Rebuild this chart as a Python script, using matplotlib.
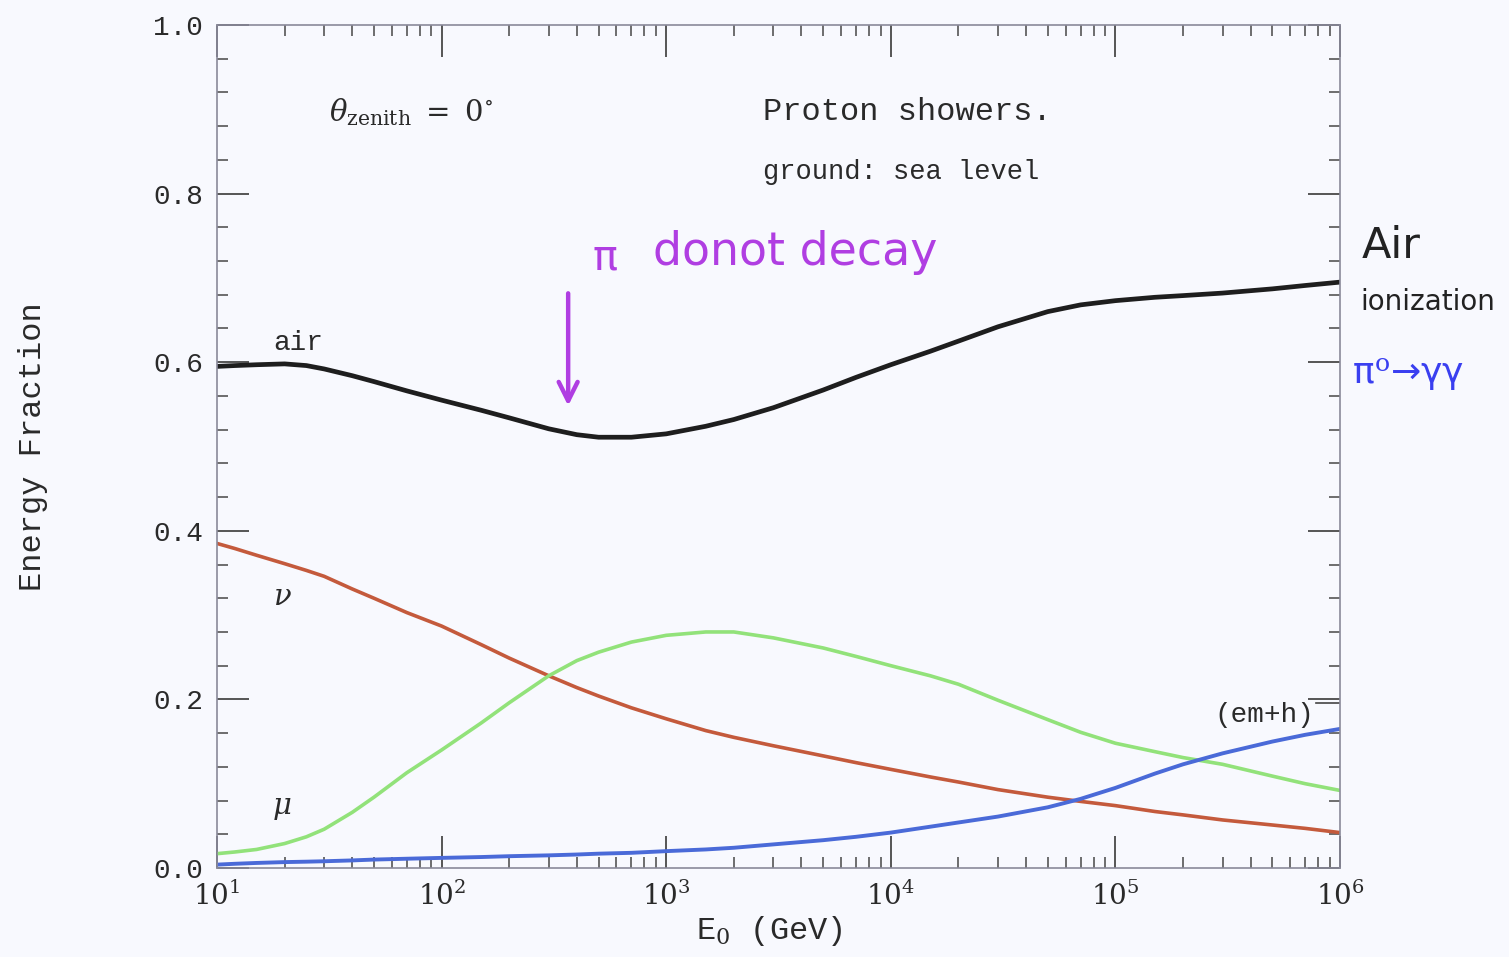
import matplotlib
matplotlib.use("Agg")
import matplotlib.pyplot as plt
from matplotlib.ticker import FixedLocator, NullFormatter, LogLocator

# Primary energy (GeV) and energy fractions carried by each component
energy = [10, 12, 15, 20, 25, 30, 40, 50, 70, 100, 150, 200, 300, 400, 500,
          700, 1e3, 1.5e3, 2e3, 3e3, 5e3, 7e3, 1e4, 1.5e4, 2e4, 3e4, 5e4,
          7e4, 1e5, 1.5e5, 2e5, 3e5, 5e5, 7e5, 1e6]

frac_air = [0.595, 0.596, 0.597, 0.598, 0.596, 0.592, 0.584, 0.577, 0.566,
            0.555, 0.543, 0.534, 0.521, 0.514, 0.511, 0.511, 0.515, 0.524,
            0.532, 0.546, 0.567, 0.582, 0.597, 0.613, 0.625, 0.642, 0.660,
            0.668, 0.673, 0.677, 0.679, 0.682, 0.687, 0.691, 0.695]

frac_nu = [0.385, 0.379, 0.371, 0.361, 0.353, 0.346, 0.331, 0.320, 0.303,
           0.287, 0.265, 0.249, 0.228, 0.214, 0.204, 0.190, 0.177, 0.163,
           0.155, 0.145, 0.133, 0.125, 0.117, 0.108, 0.102, 0.093, 0.084,
           0.079, 0.074, 0.067, 0.063, 0.057, 0.051, 0.047, 0.042]

frac_mu = [0.017, 0.019, 0.022, 0.029, 0.037, 0.046, 0.066, 0.084, 0.113,
           0.140, 0.172, 0.196, 0.228, 0.246, 0.256, 0.268, 0.276, 0.280,
           0.280, 0.273, 0.261, 0.251, 0.240, 0.228, 0.218, 0.199, 0.176,
           0.161, 0.148, 0.138, 0.131, 0.123, 0.109, 0.100, 0.092]

frac_emh = [0.004, 0.005, 0.006, 0.007, 0.0075, 0.008, 0.009, 0.010, 0.011,
            0.012, 0.013, 0.014, 0.015, 0.016, 0.017, 0.018, 0.020, 0.022,
            0.024, 0.028, 0.033, 0.037, 0.042, 0.049, 0.054, 0.061, 0.072,
            0.082, 0.095, 0.112, 0.123, 0.136, 0.150, 0.158, 0.165]

y_ticks = [0.0, 0.2, 0.4, 0.6, 0.8, 1.0]
x_ticks = [1e1, 1e2, 1e3, 1e4, 1e5, 1e6]
x_tick_labels = [r"$10^{1}$", r"$10^{2}$", r"$10^{3}$", r"$10^{4}$",
                 r"$10^{5}$", r"$10^{6}$"]

BG = "#f8f9fe"
TXT = "#2a2a2a"
MONO = "Liberation Mono"
plt.rcParams["font.family"] = [MONO, "DejaVu Serif"]
plt.rcParams["mathtext.fontset"] = "dejavuserif"

fig = plt.figure(figsize=(15.09, 9.57), dpi=100, facecolor=BG)
ax = fig.add_axes([217 / 1509, 1 - 868 / 957, 1123 / 1509, 843 / 957])
ax.set_facecolor(BG)

ax.plot(energy, frac_air, color="#1e1e1e", lw=3.4)
ax.plot(energy, frac_nu, color="#c45a3c", lw=2.6)
ax.plot(energy, frac_mu, color="#92e27a", lw=2.6)
ax.plot(energy, frac_emh, color="#4a6ad8", lw=2.8)

ax.set_xscale("log")
ax.set_xlim(1e1, 1e6)
ax.set_ylim(0.0, 1.0)

ax.xaxis.set_major_locator(FixedLocator(x_ticks))
ax.set_xticklabels(x_tick_labels)
ax.xaxis.set_minor_locator(LogLocator(base=10, subs=range(2, 10)))
ax.xaxis.set_minor_formatter(NullFormatter())
ax.yaxis.set_major_locator(FixedLocator(y_ticks))
ax.set_yticklabels([f"{v:.1f}" for v in y_ticks])
ax.yaxis.set_minor_locator(FixedLocator([i * 0.04 for i in range(26)]))

ax.tick_params(which="both", direction="in", top=True, right=True,
               colors="#555555", labelcolor=TXT)
ax.tick_params(which="major", length=23, width=1.4)
ax.tick_params(which="minor", length=8, width=1.2)
ax.tick_params(axis="x", which="major", pad=10, labelsize=20)
ax.tick_params(axis="y", which="major", pad=10, labelsize=20)
for sp in ax.spines.values():
    sp.set_color("#8a8a9a")
    sp.set_linewidth(1.2)

ax.set_xlabel(r"E$_0$ (GeV)", fontsize=23, color=TXT, labelpad=2)
ax.xaxis.label.set_x(0.492)
ax.set_ylabel("Energy Fraction", fontsize=23, color=TXT, labelpad=76)

# Curve labels
ax.text(23, 0.623, "air", fontsize=20, color=TXT, ha="center", va="center")
ax.text(19.5, 0.321, r"$\nu$", fontsize=21, color=TXT, ha="center", va="center")
ax.text(19.5, 0.071, r"$\mu$", fontsize=21, color=TXT, ha="center", va="center")
ax.text(0.977, 0.181, "(em+h)", transform=ax.transAxes, fontsize=20,
        color=TXT, ha="right", va="center")
ax.plot([0.979, 1.0], [0.196, 0.196], transform=ax.transAxes,
        color="#444444", lw=1.2)

ax.text(0.1, 0.897, r"$\theta_{\rm zenith}\ =\ 0^{\circ}$", transform=ax.transAxes,
        fontsize=21, color=TXT, ha="left", va="center")
ax.text(0.486, 0.897, "Proton showers.", transform=ax.transAxes, fontsize=23,
        color=TXT, ha="left", va="center")
ax.text(0.486, 0.826, "ground: sea level", transform=ax.transAxes, fontsize=19.5,
        color=TXT, ha="left", va="center")

# Hand-written notes
purple = "#b03ee2"
ax.annotate("", xy=(366, 0.545), xytext=(366, 0.685),
            arrowprops=dict(arrowstyle="->", color=purple, lw=3.2,
                            mutation_scale=34))
ax.text(0.334, 0.724, "π", transform=ax.transAxes, fontsize=30, color=purple,
        family="DejaVu Sans", ha="left", va="center")
ax.text(0.388, 0.73, "donot decay", transform=ax.transAxes, fontsize=33,
        color=purple, family="DejaVu Sans", ha="left", va="center")

fig.text(1362 / 1509, 1 - 246 / 957, "Air", fontsize=31, color="#222222",
         family="DejaVu Sans", ha="left", va="center")
fig.text(1360 / 1509, 1 - 302 / 957, "ionization", fontsize=20,
         color="#222222", family="DejaVu Sans", ha="left", va="center")
fig.text(1352 / 1509, 1 - 375 / 957, r"π$^{\rm o}$→γγ", fontsize=26,
         color="#3a3ff0", family="DejaVu Sans", ha="left", va="center")

fig.savefig("out.png", dpi=100, facecolor=BG)
